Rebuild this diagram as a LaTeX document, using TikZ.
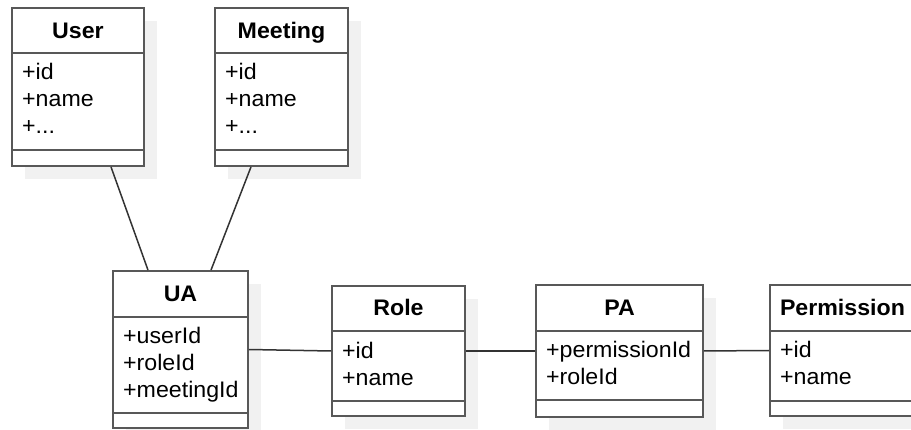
\documentclass[tikz,border=0pt]{standalone}
\usepackage{fontspec}
\setmainfont{Liberation Sans}[FakeStretch=1.03]
\usetikzlibrary{shadows}

\definecolor{boxline}{RGB}{88,88,88}
\definecolor{wire}{RGB}{51,51,51}
\definecolor{shade}{RGB}{241,241,241}

\tikzset{
  classbox/.style={draw=boxline, line width=1.8pt, fill=white, inner sep=0pt,
    drop shadow={shadow xshift=13pt, shadow yshift=-13pt, fill=shade, opacity=1}},
  classtitle/.style={font=\fontsize{22.5}{27}\selectfont\bfseries, anchor=base, inner sep=0pt},
  classattr/.style={font=\fontsize{22.5}{27}\selectfont, anchor=base west, inner sep=0pt},
  compartment/.style={draw=boxline, line width=1.8pt},
  association/.style={draw=wire, line width=1.5pt},
}

% \umlbox{name}{left}{top}{right}{bottom}{header rule}{attribute rule}
\newcommand\umlbox[7]{%
  \node[classbox, minimum width={#4pt-#2pt}, minimum height={#5pt-#3pt}]
    (#1) at ({(#2+#4)/2},{(#3+#5)/2}) {};
  \draw[compartment] (#1.west |- 0,#6) -- (#1.east |- 0,#6);
  \draw[compartment] (#1.west |- 0,#7) -- (#1.east |- 0,#7);
}

\begin{document}
\begin{tikzpicture}[x=1pt, y=-1pt]
  \useasboundingbox (0,0) rectangle (911,430);
  \clip (0,0) rectangle (911,430);

  % class boxes
  \umlbox{user}{12}{8}{144}{166}{53}{150}
  \umlbox{meeting}{215}{8}{348}{166}{53}{150}
  \umlbox{ua}{113}{271}{248}{428}{317}{413}
  \umlbox{role}{332}{286}{465}{416}{331}{401}
  \umlbox{pa}{536}{285}{703}{417}{331}{400}
  \umlbox{perm}{770}{285}{916}{416}{331}{401}

  % User
  \node[classtitle] (user-t) at (78,38.5) {User};
  \node[classattr] (user-a1) at (22,80) {+id};
  \node[classattr] (user-a2) at (22,107) {+name};
  \node[classattr] (user-a3) at (22,134) {+...};

  % Meeting
  \node[classtitle] (meeting-t) at (281.5,38.5) {Meeting};
  \node[classattr] (meeting-a1) at (225,80) {+id};
  \node[classattr] (meeting-a2) at (225,107) {+name};
  \node[classattr] (meeting-a3) at (225,134) {+...};

  % UA
  \node[classtitle] (ua-t) at (180.5,301.5) {UA};
  \node[classattr] (ua-a1) at (123,344) {+userId};
  \node[classattr] (ua-a2) at (123,371) {+roleId};
  \node[classattr] (ua-a3) at (123,398) {+meetingId};

  % Role
  \node[classtitle] (role-t) at (398.5,316) {Role};
  \node[classattr] (role-a1) at (342,358.5) {+id};
  \node[classattr] (role-a2) at (342,385.5) {+name};

  % PA
  \node[classtitle] (pa-t) at (619.5,315.5) {PA};
  \node[classattr] (pa-a1) at (546,358) {+permissionId};
  \node[classattr] (pa-a2) at (546,385) {+roleId};

  % Permission
  \node[classtitle] (perm-t) at (842.5,315.5) {Permission};
  \node[classattr] (perm-a1) at (780,358) {+id};
  \node[classattr] (perm-a2) at (780,385) {+name};

  % associations
  \draw[association] ([xshift=33pt]user.south) -- ([xshift=-32.5pt]ua.north);
  \draw[association] ([xshift=-30.5pt]meeting.south) -- ([xshift=30.5pt]ua.north);
  \draw[association] (ua.east) -- (role.west);
  \draw[association] (role.east) -- (pa.west);
  \draw[association] (pa.east) -- (perm.west);
\end{tikzpicture}
\end{document}
